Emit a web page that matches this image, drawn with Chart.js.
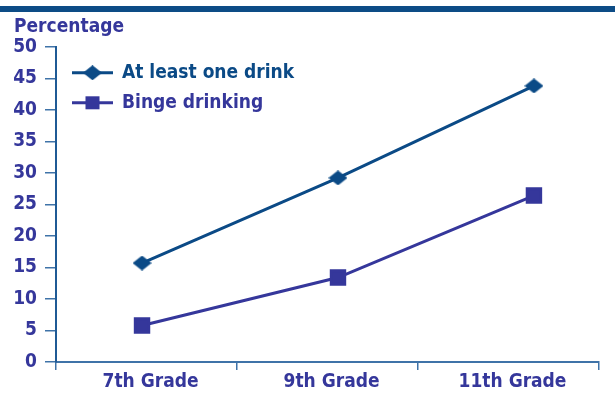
<!DOCTYPE html>
<html>
<head>
<meta charset="utf-8">
<script src="https://cdn.jsdelivr.net/npm/chart.js@4.4.1/dist/chart.umd.min.js"></script>
<style>
  html, body { margin: 0; padding: 0; background: #ffffff; }
  #wrap { width: 615px; height: 394px; position: relative; }
</style>
</head>
<body>
<div id="wrap"><canvas id="chart-drinking"></canvas></div>
<script>
const grades = ['7th Grade', '9th Grade', '11th Grade']
const atLeastOne = [15.7, 29.2, 43.8]
const binge = [5.8, 13.4, 26.4]
const yTicks = [0, 5, 10, 15, 20, 25, 30, 35, 40, 45, 50]

const blueColor = '#0b4a86'
const indigoColor = '#35379b'
const axisColor = '#3f73a8'
const fontFamily = '"DejaVu Sans Condensed", "DejaVu Sans", sans-serif'

// flattened diamond marker
function diamondMarker(w, h, color) {
    var c = document.createElement('canvas')
    c.width = w
    c.height = h
    var g = c.getContext('2d')
    g.fillStyle = color
    g.beginPath()
    g.moveTo(w / 2, 0)
    g.lineTo(w, h / 2)
    g.lineTo(w / 2, h)
    g.lineTo(0, h / 2)
    g.closePath()
    g.fill()
    return c
}

const diamond = diamondMarker(19, 15, blueColor)

function toPoints(values) {
    return values.map(function (v, i) { return { x: i, y: v } })
}

// dark band across the top of the figure
const topBand = {
    id: 'topBand',
    beforeDraw(chart) {
        var ctx = chart.ctx
        ctx.save()
        ctx.fillStyle = '#0d4c86'
        ctx.fillRect(0, 6, chart.width, 6)
        ctx.restore()
    }
}

// legend sitting inside the plot, top left
const innerLegend = {
    id: 'innerLegend',
    afterDatasetsDraw(chart) {
        var ctx = chart.ctx
        var area = chart.chartArea
        ctx.save()
        chart.data.datasets.forEach(function (ds, i) {
            var y = area.top + 26 + i * 30
            var x0 = area.left + 16
            var x1 = area.left + 57
            ctx.strokeStyle = ds.borderColor
            ctx.lineWidth = 3
            ctx.beginPath()
            ctx.moveTo(x0, y)
            ctx.lineTo(x1, y)
            ctx.stroke()
            var mx = (x0 + x1) / 2
            if (ds.pointStyle === 'rect') {
                ctx.fillStyle = ds.borderColor
                ctx.fillRect(mx - 7, y - 6.5, 14, 13)
            } else {
                ctx.drawImage(ds.pointStyle, mx - 9.5, y - 7.5)
            }
            ctx.fillStyle = ds.borderColor
            ctx.font = 'bold 19px ' + fontFamily
            ctx.textBaseline = 'middle'
            ctx.textAlign = 'left'
            ctx.fillText(ds.label, area.left + 66, y)
        })
        ctx.restore()
    }
}

var ctx = document.getElementById('chart-drinking')
var lineChart = new Chart(ctx, {
    type: 'line',
    data: {
        labels: grades,
        datasets: [{
            label: 'At least one drink',
            data: toPoints(atLeastOne),
            xAxisID: 'xl',
            borderColor: blueColor,
            backgroundColor: blueColor,
            borderWidth: 3,
            pointStyle: diamond,
            pointRadius: 9,
            lineTension: 0,
            fill: false
        }, {
            label: 'Binge drinking',
            data: toPoints(binge),
            xAxisID: 'xl',
            borderColor: indigoColor,
            backgroundColor: indigoColor,
            borderWidth: 3,
            pointStyle: 'rect',
            pointRadius: 9.5,
            lineTension: 0,
            fill: false
        }]
    },
    options: {
        responsive: true,
        maintainAspectRatio: false,
        animation: false,
        layout: { padding: { left: 14, right: 16, top: 0, bottom: 0 } },
        plugins: {
            legend: { display: false },
            tooltip: { enabled: false },
            title: {
                display: true,
                text: 'Percentage',
                align: 'start',
                color: indigoColor,
                font: { family: fontFamily, size: 19, weight: 'bold' },
                padding: { top: 16, bottom: 8 }
            }
        },
        scales: {
            x: {
                type: 'category',
                offset: true,
                afterFit: function (axis) { axis.height = 32 },
                grid: {
                    offset: true,
                    drawOnChartArea: false,
                    color: axisColor,
                    tickLength: 8,
                    lineWidth: 1.5
                },
                border: { color: axisColor, width: 2 },
                ticks: {
                    color: indigoColor,
                    padding: 1,
                    labelOffset: 4,
                    font: { family: fontFamily, size: 19, weight: 'bold' }
                }
            },
            xl: {
                type: 'linear',
                display: false,
                min: -0.439,
                max: 2.332
            },
            y: {
                min: 0,
                max: 50,
                afterBuildTicks: function (axis) {
                    axis.ticks = yTicks.map(function (v) { return { value: v } })
                },
                afterFit: function (axis) { axis.width = 42 },
                grid: {
                    drawOnChartArea: false,
                    color: axisColor,
                    tickLength: 11,
                    lineWidth: 1.5
                },
                border: { color: '#1f5a95', width: 2 },
                ticks: {
                    color: indigoColor,
                    padding: 8,
                    font: { family: fontFamily, size: 19, weight: 'bold' }
                }
            }
        }
    },
    plugins: [topBand, innerLegend]
})
</script>
</body>
</html>
